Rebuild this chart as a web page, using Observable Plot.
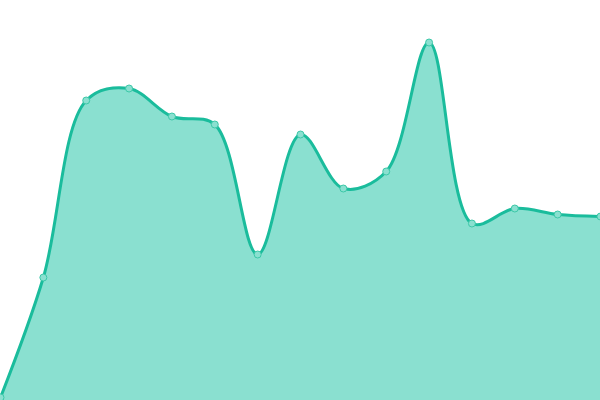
<!DOCTYPE html>
<html>
<head>
<meta charset="utf-8">
<script src="https://cdn.jsdelivr.net/npm/d3@7"></script>
<script src="https://cdn.jsdelivr.net/npm/@observablehq/plot@0.6"></script>
<style>
  html, body { margin: 0; padding: 0; background: #fff; }
  svg { display: block; }
</style>
</head>
<body>
<div id="chart"></div>
<script>
const indices = [0, 1, 2, 3, 4, 5, 6, 7, 8, 9, 10, 11, 12, 13, 14];
const values = [0.75, 30.75, 75, 78, 71, 69, 36.5, 66.5, 53, 57.25, 89.5, 44.25, 48, 46.5, 46];

const data = indices.map((i, k) => ({x: i, y: values[k]}));

const chart = Plot.plot({
  width: 600,
  height: 400,
  margin: 0,
  x: {domain: [0, 14], axis: null},
  y: {domain: [0, 100], axis: null},
  marks: [
    Plot.areaY(data, {x: "x", y: "y", curve: "catmull-rom", fill: "#8ae0d0"}),
    Plot.lineY(data, {x: "x", y: "y", curve: "catmull-rom", stroke: "#1abc9c", strokeWidth: 3}),
    Plot.dot(data, {x: "x", y: "y", r: 3.5, fill: "#8ae0d0", stroke: "#3cc8a8", strokeWidth: 1})
  ]
});
document.getElementById("chart").appendChild(chart);
</script>
</body>
</html>
